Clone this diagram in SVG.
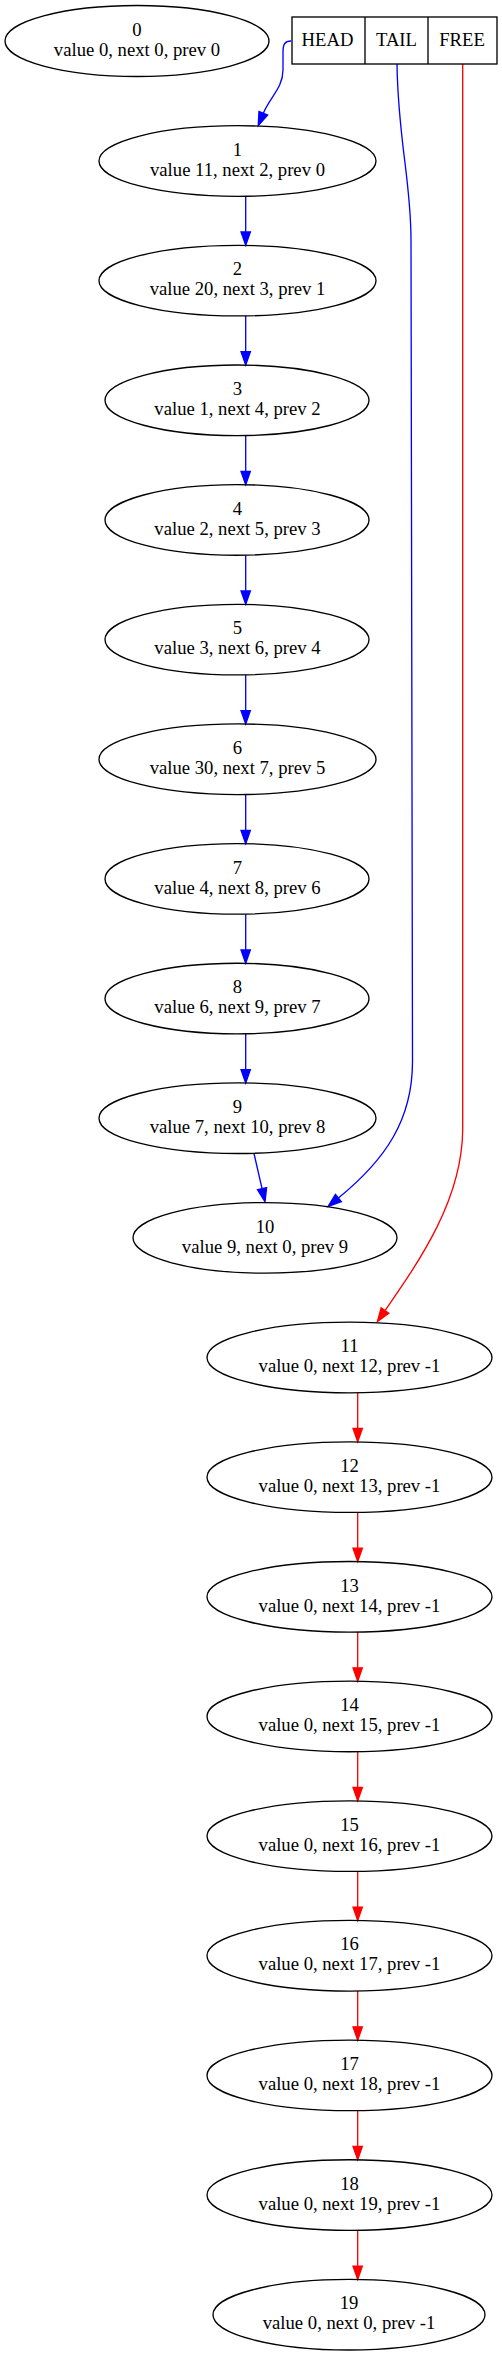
<svg xmlns="http://www.w3.org/2000/svg" width="502" height="2356" viewBox="0 0 502 2356">
<style>
.n ellipse{fill:none;stroke:#000;stroke-width:1.33}
text{font-family:"Liberation Serif","Times New Roman",serif;font-size:18.67px;text-anchor:middle;fill:#000}
.b{fill:none;stroke:#0000ff;stroke-width:1.33}
.r{fill:none;stroke:#ff0000;stroke-width:1.33}
</style>
<defs>
<marker id="ab" markerUnits="userSpaceOnUse" markerWidth="16" markerHeight="12" viewBox="-1 -1 16 12" refX="0" refY="5" orient="auto" overflow="visible">
<path d="M0,0.33 L13.33,5 L0,9.67 Z" fill="#0000ff" stroke="#0000ff" stroke-width="1.33"/>
</marker>
<marker id="ar" markerUnits="userSpaceOnUse" markerWidth="16" markerHeight="12" viewBox="-1 -1 16 12" refX="0" refY="5" orient="auto" overflow="visible">
<path d="M0,0.33 L13.33,5 L0,9.67 Z" fill="#ff0000" stroke="#ff0000" stroke-width="1.33"/>
</marker>
</defs>
<rect width="502" height="2356" fill="#fff"/>
<g id="edges">
<path class="b" marker-end="url(#ab)" d="M291,41 C285,41 283,44 283,52 L283,70 C283,88 270,97 263.3,113.3"/>
<path class="b" marker-end="url(#ab)" d="M397,64 C398,140 411,180 411,240 L412.5,1060 C413,1120 385,1160 338.4,1198"/>
<path class="r" marker-end="url(#ar)" d="M462.7,64 L462.7,1130 C462,1200 420,1260 385,1310.6"/>
<path class="b" marker-end="url(#ab)" d="M245.7,196.3 L245.7,232"/>
<path class="b" marker-end="url(#ab)" d="M245.7,316 L245.7,351.7"/>
<path class="b" marker-end="url(#ab)" d="M245.7,435.6 L245.7,471.3"/>
<path class="b" marker-end="url(#ab)" d="M245.7,555.3 L245.7,591"/>
<path class="b" marker-end="url(#ab)" d="M245.7,674.9 L245.7,710.6"/>
<path class="b" marker-end="url(#ab)" d="M245.7,794.6 L245.7,830.3"/>
<path class="b" marker-end="url(#ab)" d="M245.7,914.2 L245.7,949.9"/>
<path class="b" marker-end="url(#ab)" d="M245.7,1033.9 L245.7,1069.6"/>
<path class="b" marker-end="url(#ab)" d="M254,1153.5 L262.05,1188.7"/>
<path class="r" marker-end="url(#ar)" d="M357.7,1392.8 L357.7,1428.5"/>
<path class="r" marker-end="url(#ar)" d="M357.7,1512.5 L357.7,1548.2"/>
<path class="r" marker-end="url(#ar)" d="M357.7,1632.1 L357.7,1667.8"/>
<path class="r" marker-end="url(#ar)" d="M357.7,1751.8 L357.7,1787.5"/>
<path class="r" marker-end="url(#ar)" d="M357.7,1871.4 L357.7,1907.1"/>
<path class="r" marker-end="url(#ar)" d="M357.7,1991.1 L357.7,2026.8"/>
<path class="r" marker-end="url(#ar)" d="M357.7,2110.7 L357.7,2146.4"/>
<path class="r" marker-end="url(#ar)" d="M357.7,2230.4 L357.7,2266.1"/>
</g>
<g id="list">
<rect x="292" y="17" width="205" height="47" fill="none" stroke="#000" stroke-width="1.33"/>
<line x1="365" y1="17" x2="365" y2="64" stroke="#000" stroke-width="1.33"/>
<line x1="428" y1="17" x2="428" y2="64" stroke="#000" stroke-width="1.33"/>
<text x="327.5" y="45.7">HEAD</text>
<text x="396.5" y="45.7">TAIL</text>
<text x="462" y="45.7">FREE</text>
</g>
<g id="node0" class="n"><ellipse cx="137" cy="41" rx="132" ry="35.5"/><text x="137" y="35.7">0</text><text x="137" y="55.7">value 0, next 0, prev 0</text></g>
<g id="node1" class="n"><ellipse cx="237.5" cy="161" rx="138.5" ry="35.3"/><text x="237.5" y="155.7">1</text><text x="237.5" y="175.7">value 11, next 2, prev 0</text></g>
<g id="node2" class="n"><ellipse cx="237.5" cy="280.65" rx="138.5" ry="35.3"/><text x="237.5" y="275.35">2</text><text x="237.5" y="295.35">value 20, next 3, prev 1</text></g>
<g id="node3" class="n"><ellipse cx="237" cy="400.3" rx="132" ry="35.3"/><text x="237.5" y="395">3</text><text x="237.5" y="415">value 1, next 4, prev 2</text></g>
<g id="node4" class="n"><ellipse cx="237" cy="519.95" rx="132" ry="35.3"/><text x="237.5" y="514.65">4</text><text x="237.5" y="534.65">value 2, next 5, prev 3</text></g>
<g id="node5" class="n"><ellipse cx="237" cy="639.6" rx="132" ry="35.3"/><text x="237.5" y="634.3">5</text><text x="237.5" y="654.3">value 3, next 6, prev 4</text></g>
<g id="node6" class="n"><ellipse cx="237.5" cy="759.25" rx="138.5" ry="35.3"/><text x="237.5" y="753.95">6</text><text x="237.5" y="773.95">value 30, next 7, prev 5</text></g>
<g id="node7" class="n"><ellipse cx="237" cy="878.9" rx="132" ry="35.3"/><text x="237.5" y="873.6">7</text><text x="237.5" y="893.6">value 4, next 8, prev 6</text></g>
<g id="node8" class="n"><ellipse cx="237" cy="998.55" rx="132" ry="35.3"/><text x="237.5" y="993.25">8</text><text x="237.5" y="1013.25">value 6, next 9, prev 7</text></g>
<g id="node9" class="n"><ellipse cx="237.5" cy="1118.2" rx="138.5" ry="35.3"/><text x="237.5" y="1112.9">9</text><text x="237.5" y="1132.9">value 7, next 10, prev 8</text></g>
<g id="node10" class="n"><ellipse cx="265" cy="1237.85" rx="132" ry="35.3"/><text x="265" y="1232.55">10</text><text x="265" y="1252.55">value 9, next 0, prev 9</text></g>
<g id="node11" class="n"><ellipse cx="349.5" cy="1357.5" rx="142.5" ry="35.3"/><text x="349.5" y="1352.2">11</text><text x="349.5" y="1372.2">value 0, next 12, prev -1</text></g>
<g id="node12" class="n"><ellipse cx="349.5" cy="1477.15" rx="142.5" ry="35.3"/><text x="349.5" y="1471.85">12</text><text x="349.5" y="1491.85">value 0, next 13, prev -1</text></g>
<g id="node13" class="n"><ellipse cx="349.5" cy="1596.8" rx="142.5" ry="35.3"/><text x="349.5" y="1591.5">13</text><text x="349.5" y="1611.5">value 0, next 14, prev -1</text></g>
<g id="node14" class="n"><ellipse cx="349.5" cy="1716.45" rx="142.5" ry="35.3"/><text x="349.5" y="1711.15">14</text><text x="349.5" y="1731.15">value 0, next 15, prev -1</text></g>
<g id="node15" class="n"><ellipse cx="349.5" cy="1836.1" rx="142.5" ry="35.3"/><text x="349.5" y="1830.8">15</text><text x="349.5" y="1850.8">value 0, next 16, prev -1</text></g>
<g id="node16" class="n"><ellipse cx="349.5" cy="1955.75" rx="142.5" ry="35.3"/><text x="349.5" y="1950.45">16</text><text x="349.5" y="1970.45">value 0, next 17, prev -1</text></g>
<g id="node17" class="n"><ellipse cx="349.5" cy="2075.4" rx="142.5" ry="35.3"/><text x="349.5" y="2070.1">17</text><text x="349.5" y="2090.1">value 0, next 18, prev -1</text></g>
<g id="node18" class="n"><ellipse cx="349.5" cy="2195.05" rx="142.5" ry="35.3"/><text x="349.5" y="2189.75">18</text><text x="349.5" y="2209.75">value 0, next 19, prev -1</text></g>
<g id="node19" class="n"><ellipse cx="349" cy="2314.7" rx="136" ry="35.3"/><text x="349" y="2309.4">19</text><text x="349" y="2329.4">value 0, next 0, prev -1</text></g>
</svg>
